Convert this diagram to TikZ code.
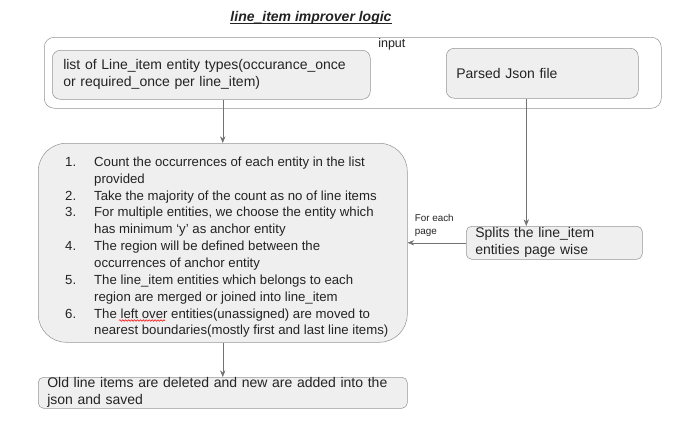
\documentclass[tikz,border=0pt]{standalone}
\usepackage{fontspec}
\setmainfont{Liberation Sans}
\usetikzlibrary{arrows.meta,decorations.pathmorphing}

\definecolor{boxfill}{RGB}{239,239,239}
\definecolor{boxline}{RGB}{150,150,150}
\definecolor{arrowline}{RGB}{115,115,115}
\definecolor{inktext}{RGB}{35,35,35}

\tikzset{
    box/.style={draw=boxline, fill=boxfill, anchor=north west, align=left,
        text=inktext, font=\fontsize{10.5}{12.9}\selectfont},
    conn/.style={draw=arrowline, -{Stealth[length=5pt,width=4pt]}},
}

\begin{document}
\begin{tikzpicture}[x=0.75pt,y=-0.75pt]

    \useasboundingbox (0,0) rectangle (678,430);

    \coordinate (ul) at (44,37);
    \coordinate (l1) at (52,50);
    \coordinate (r1) at (446,48);
    \coordinate (m1) at (38,143);
    \coordinate (s1) at (466,226);
    \coordinate (o1) at (38,377);

    \node[font=\fontsize{10.5}{12}\selectfont\bfseries\itshape, text=inktext, inner sep=0pt]
        (title) at (311,18) {line\_item improver logic};
    \draw[inktext, line width=0.8pt] ([yshift=-1.6pt]title.base west) -- ([yshift=-1.6pt]title.base east);

    % input group
    \node[box, fill=white, rounded corners=7.5pt, minimum width=462.75pt, minimum height=53.25pt]
        (input) at (ul) {};
    \node[anchor=west, text=inktext, font=\fontsize{9.4}{11}\selectfont, inner sep=0pt]
        (inputlbl) at (378,44) {input};

    \node[box, rounded corners=6pt, text width=222pt, inner xsep=8.25pt, inner ysep=0pt, minimum height=36.75pt]
        (listin) at (l1) {list of Line\_item entity types(occurance\_once\\or required\_once per line\_item)};
    \node[box, rounded corners=6pt, text width=129pt, inner xsep=7.5pt, inner ysep=0pt, minimum height=37.5pt]
        (json) at (r1) {Parsed Json file};

    % main logic
    \node[box, rounded corners=21pt, inner sep=0pt, minimum width=276.75pt, minimum height=149.25pt]
        (steps) at (m1) {};
    \node[inner sep=0pt, text=inktext, font=\fontsize{9.9}{12.64}\selectfont]
        (steplist) at ([xshift=3pt,yshift=-3.4pt]steps.center) {\begin{tabular}{@{}p{21.75pt}@{}l@{}}
        1. & Count the occurrences of each entity in the list\\
           & provided\\
        2. & Take the majority of the count as no of line items\\
        3. & For multiple entities, we choose the entity which\\
           & has minimum ‘y’ as anchor entity\\
        4. & The region will be defined between the\\
           & occurrences of anchor entity\\
        5. & The line\_item entities which belongs to each\\
           & region are merged or joined into line\_item\\
        6. & The left over entities(unassigned) are moved to\\
           & nearest boundaries(mostly first and last line items)
        \end{tabular}};

    \node[box, rounded corners=4pt, text width=118.5pt, inner xsep=6.75pt, inner ysep=0pt, minimum height=24.75pt]
        (split) at (s1) {Splits the line\_item\\entities page wise};

    \node[box, rounded corners=4pt, text width=263.25pt, inner xsep=6.75pt, inner ysep=0pt, minimum height=23.25pt]
        (oldbox) at (o1) {Old line items are deleted and new are added into the\\json and saved};

    \draw[conn] (listin.south -| steps.north) -- (steps.north);
    \draw[conn] ([xshift=-12pt]json.south) -- ([xshift=-12pt]json.south |- split.north);
    \draw[conn] (split.west) -- (split.west -| steps.east);
    \draw[conn] (steps.south) -- (oldbox.north);

    \node[anchor=south west, align=left, inner sep=0pt, text=inktext, font=\fontsize{7.4}{9.6}\selectfont]
        (eachpage) at ([xshift=5.25pt,yshift=4.5pt]split.west -| steps.east) {For each\\page};

    % spell check mark
    \draw[red, line width=0.4pt, decorate, decoration={snake, amplitude=0.6pt, segment length=2.2pt}]
        (119,320.5) -- (165,320.5);

\end{tikzpicture}
\end{document}
